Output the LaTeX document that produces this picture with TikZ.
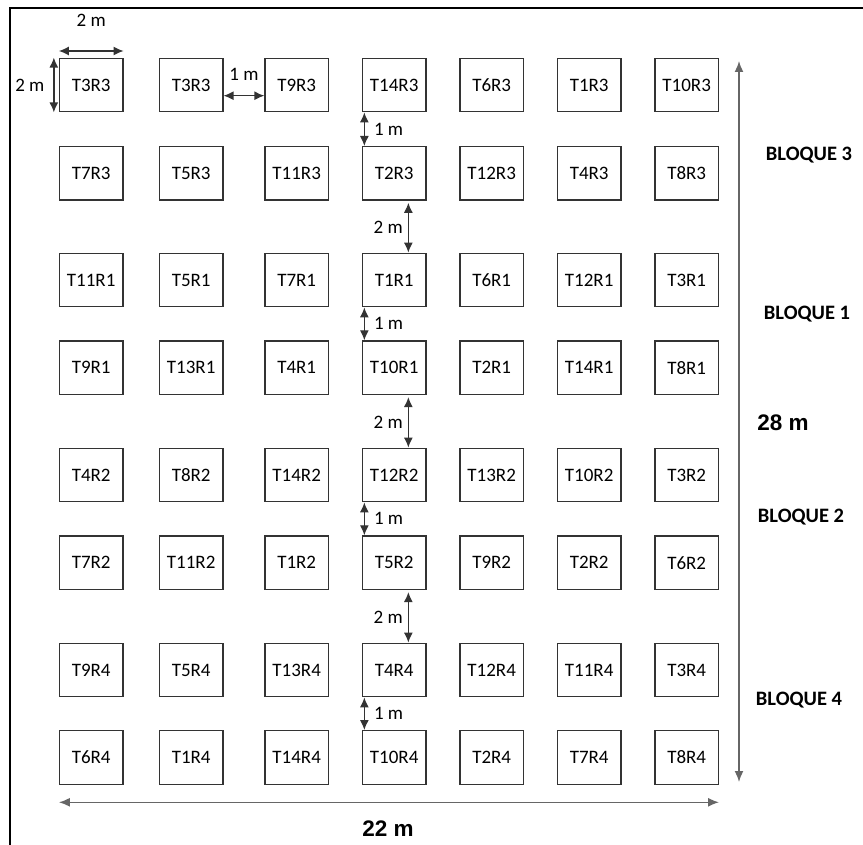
\documentclass[tikz,border=0pt]{standalone}
\usepackage{fontspec}
\setmainfont{Carlito}
\newfontfamily\arialf{Liberation Sans}
\usetikzlibrary{arrows.meta}
\begin{document}
\begin{tikzpicture}[x=1pt,y=-1pt,
  plot/.style={draw=black!80,line width=1.3pt,minimum width=63.4pt,minimum height=53.5pt,inner sep=0pt,
    font=\fontsize{19}{21}\selectfont},
  dim/.style={draw=black!80,line width=1.3pt,{Latex[length=10pt,width=9pt]}-{Latex[length=10pt,width=9pt]}},
  bigdim/.style={draw=black!60,line width=1.6pt,{Latex[length=11pt,width=9pt]}-{Latex[length=11pt,width=9pt]}},
  lbl/.style={inner sep=0pt,font=\fontsize{19}{21}\selectfont},
  blk/.style={inner sep=0pt,font=\fontsize{20.5}{22}\selectfont\bfseries},
  big/.style={inner sep=0pt,font=\arialf\fontsize{22.5}{24}\selectfont\bfseries}]
\useasboundingbox (0,0) rectangle (863,845);
% frame
\draw[line width=1.6pt] (10,845) -- (10,8.3) -- (863,8.3);
% plots
\foreach \row/\y/\names in {
  1/85/{T3R3,T3R3,T9R3,T14R3,T6R3,T1R3,T10R3},
  2/173.4/{T7R3,T5R3,T11R3,T2R3,T12R3,T4R3,T8R3},
  3/280/{T11R1,T5R1,T7R1,T1R1,T6R1,T12R1,T3R1},
  4/367.7/{T9R1,T13R1,T4R1,T10R1,T2R1,T14R1,T8R1},
  5/475/{T4R2,T8R2,T14R2,T12R2,T13R2,T10R2,T3R2},
  6/562.7/{T7R2,T11R2,T1R2,T5R2,T9R2,T2R2,T6R2},
  7/670/{T9R4,T5R4,T13R4,T4R4,T12R4,T11R4,T3R4},
  8/757.4/{T6R4,T1R4,T14R4,T10R4,T2R4,T7R4,T8R4}}{
  \foreach \nm [count=\col] in \names {
    \pgfmathsetmacro{\xx}{{91.2,191.2,296.7,394.2,491.7,589.2,686.7}[\col-1]}
    \node[plot] (r\row c\col) at (\xx,\y) {\nm};
  }
}
% top-left dimensions
\draw[dim] ([yshift=6.6pt]r1c1.north west) -- node[lbl,midway,yshift=31pt]{2 m} ([yshift=6.6pt]r1c1.north east);
\draw[dim] ([xshift=-5pt]r1c1.north west) -- node[lbl,midway,xshift=-24pt]{2 m} ([xshift=-5pt]r1c1.south west);
\draw[dim] ([yshift=-10.7pt]r1c2.east) -- node[lbl,midway,yshift=21.7pt]{1 m} ([yshift=-10.7pt]r1c3.west);
% 1 m vertical arrows
\foreach \a/\b in {1/2,3/4,5/6,7/8}{
  \draw[dim] ([xshift=2.5pt]r\a c4.south west) -- node[lbl,midway,anchor=west,xshift=9pt]{1 m} ([xshift=2.5pt]r\b c4.north west);
}
% 2 m vertical arrows
\foreach \a/\b in {2/3,4/5,6/7}{
  \draw[dim] ([xshift=46.5pt,yshift=-2pt]r\a c4.south west) -- node[lbl,midway,anchor=east,xshift=-5pt]{2 m} ([xshift=46.5pt]r\b c4.north west);
}
% overall dimensions
\coordinate (vtop) at (739,61);
\coordinate (vbot) at (739,782);
\draw[bigdim] (vtop) -- (vbot);
\draw[bigdim] ([yshift=-17.5pt]r8c1.south west) -- ([yshift=-17.5pt]r8c7.south east);
\node[big] (l28) at (783,422.7) {28 m};
\node[big] (l22) at (388,829) {22 m};
% blocks
\node[blk] (b3) at (809,155) {BLOQUE 3};
\node[blk] (b1) at (807,314) {BLOQUE 1};
\node[blk] (b2) at (801,517) {BLOQUE 2};
\node[blk] (b4) at (799,700) {BLOQUE 4};
\end{tikzpicture}
\end{document}
